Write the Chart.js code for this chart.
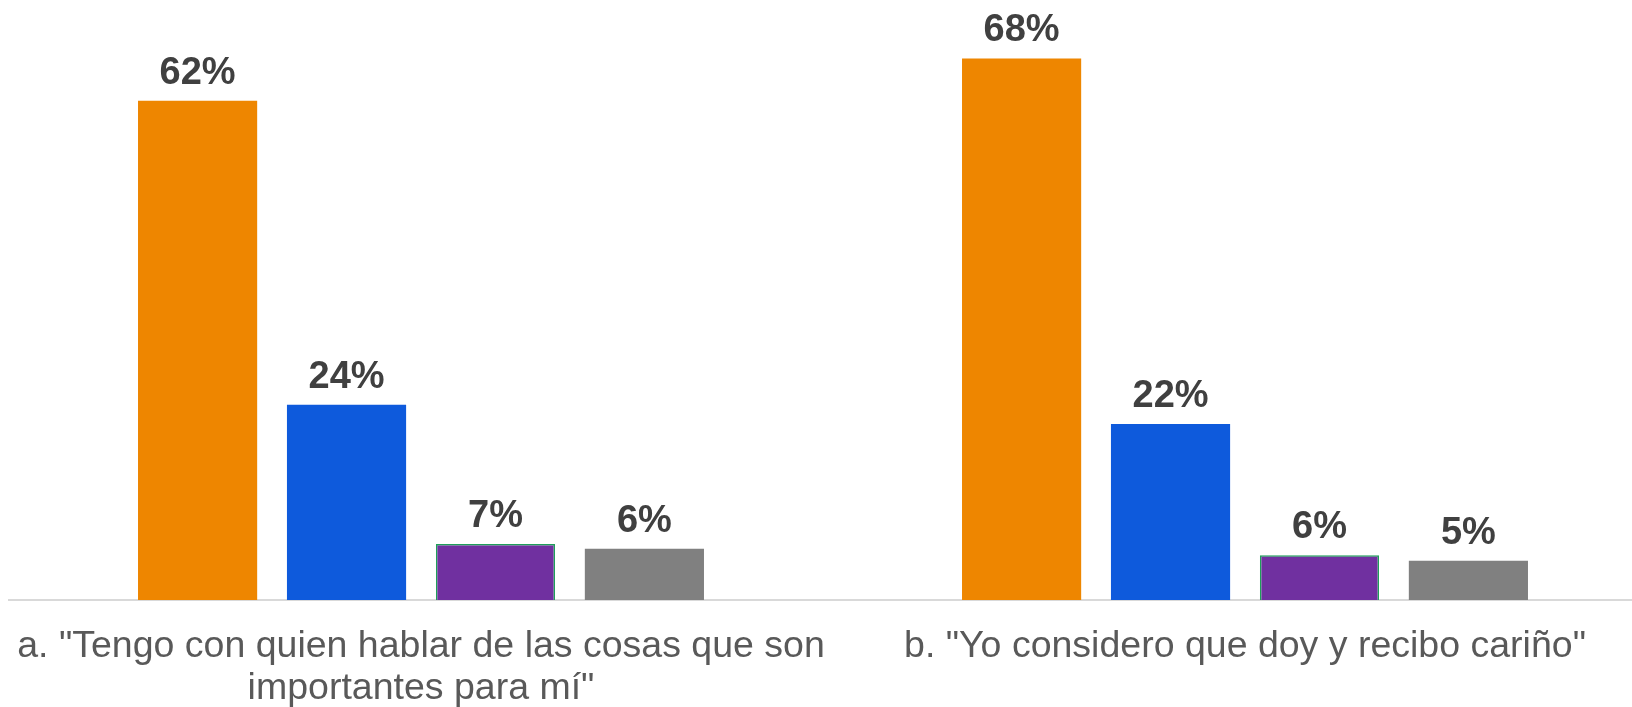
<!DOCTYPE html>
<html>
<head>
<meta charset="utf-8">
<script src="https://cdn.jsdelivr.net/npm/chart.js@4"></script>
<style>
  html, body { margin: 0; padding: 0; background: #ffffff; overflow: hidden; }
  #wrap { width: 1660px; height: 736px; }
</style>
</head>
<body>
<div id="wrap"><canvas id="c" width="1660" height="736"></canvas></div>
<script>
const categories = [
  ['a. "Tengo con quien hablar de las cosas que son', 'importantes para mí"'],
  'b. "Yo considero que doy y recibo cariño"'
];
const seriesNames = ['Serie 1', 'Serie 2', 'Serie 3', 'Serie 4'];
const serie1 = [62.4, 67.7];
const serie2 = [24.4, 22.0];
const serie3 = [7.0, 5.6];
const serie4 = [6.4, 4.9];
const seriesColors = ['#EE8600', '#0E5ADC', '#7030A0', '#808080'];
const seriesBorders = ['#EE8600', '#0E5ADC', '#1E9E5A', '#808080'];

const allSeries = [serie1, serie2, serie3, serie4];

const labelPlugin = {
  id: 'valueLabels',
  afterDatasetsDraw(chart) {
    const ctx = chart.ctx;
    ctx.save();
    ctx.font = 'bold 38px "Liberation Sans", Arial, sans-serif';
    ctx.fillStyle = '#404040';
    ctx.textAlign = 'center';
    ctx.textBaseline = 'alphabetic';
    chart.data.datasets.forEach((ds, i) => {
      const meta = chart.getDatasetMeta(i);
      meta.data.forEach((el, j) => {
        ctx.fillText(Math.round(ds.data[j]) + '%', el.x, el.y - 17);
      });
    });
    ctx.restore();
  }
};

new Chart(document.getElementById('c'), {
  type: 'bar',
  data: {
    labels: categories,
    datasets: allSeries.map((d, i) => ({
      label: seriesNames[i],
      data: d,
      backgroundColor: seriesColors[i],
      borderColor: seriesBorders[i],
      borderWidth: i === 2 ? 1.5 : 0,
      barPercentage: 0.8,
      categoryPercentage: 0.723
    }))
  },
  options: {
    responsive: false,
    animation: false,
    devicePixelRatio: 1,
    layout: { padding: { left: 9, right: 3, top: 40, bottom: 0 } },
    plugins: { legend: { display: false }, tooltip: { enabled: false } },
    scales: {
      x: {
        grid: { display: false, drawTicks: false },
        border: { display: true, color: '#D9D9D9', width: 2 },
        afterFit(scale) { scale.paddingLeft = 0; scale.paddingRight = 0; },
        ticks: {
          color: '#595959',
          font: { family: '"Liberation Sans", Arial, sans-serif', size: 37.5, lineHeight: 1.12 },
          padding: 26,
          maxRotation: 0,
          minRotation: 0,
          autoSkip: false
        }
      },
      y: {
        display: false,
        min: 0,
        max: 70
      }
    }
  },
  plugins: [labelPlugin]
});
</script>
</body>
</html>
